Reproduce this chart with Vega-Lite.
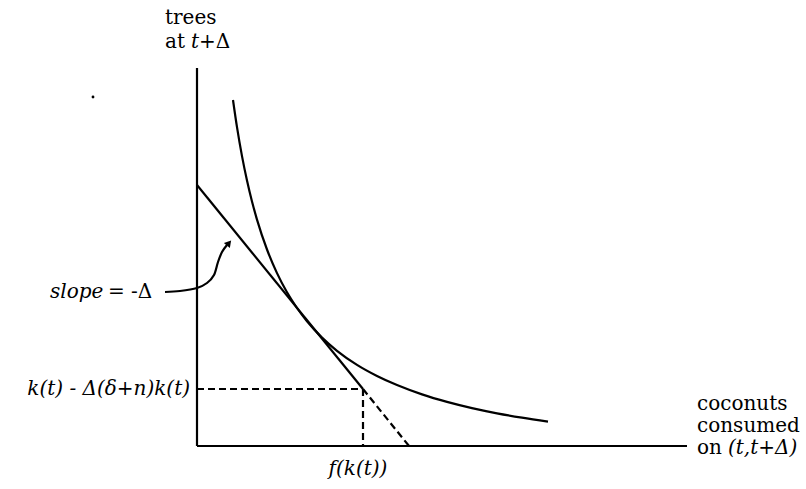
{
  "$schema": "https://vega.github.io/schema/vega-lite/v6.json",
  "width": 806,
  "height": 489,
  "autosize": {"type": "fit", "contains": "padding"},
  "padding": 0,
  "background": "white",
  "config": {"view": {"stroke": null}, "text": {"font": "DejaVu Serif"}},
  "datasets": {
    "straight": [
      {"id": "vaxis", "o": 1, "X": 0, "Y": 378},
      {"id": "vaxis", "o": 2, "X": 0, "Y": 0},
      {"id": "haxis", "o": 1, "X": 0, "Y": 0},
      {"id": "haxis", "o": 2, "X": 490, "Y": 0},
      {"id": "tangent", "o": 1, "X": 0, "Y": 261},
      {"id": "tangent", "o": 2, "X": 166, "Y": 57}
    ],
    "dashed": [
      {"id": "h", "o": 1, "X": 0, "Y": 57},
      {"id": "h", "o": 2, "X": 166, "Y": 57},
      {"id": "v", "o": 1, "X": 166, "Y": 57},
      {"id": "v", "o": 2, "X": 166, "Y": 0},
      {"id": "d", "o": 1, "X": 166, "Y": 57},
      {"id": "d", "o": 2, "X": 212, "Y": 0}
    ],
    "curve": [
      {"o": 1, "X": 36, "Y": 346},
      {"o": 2, "X": 40, "Y": 318.8},
      {"o": 3, "X": 45, "Y": 289.9},
      {"o": 4, "X": 50, "Y": 265.5},
      {"o": 5, "X": 55, "Y": 244.5},
      {"o": 6, "X": 60, "Y": 226.4},
      {"o": 7, "X": 70, "Y": 196.5},
      {"o": 8, "X": 80, "Y": 172.9},
      {"o": 9, "X": 90, "Y": 153.7},
      {"o": 10, "X": 100, "Y": 138},
      {"o": 11, "X": 110, "Y": 124.7},
      {"o": 12, "X": 125, "Y": 108.4},
      {"o": 13, "X": 140, "Y": 95.2},
      {"o": 14, "X": 160, "Y": 81.1},
      {"o": 15, "X": 180, "Y": 70},
      {"o": 16, "X": 200, "Y": 60.9},
      {"o": 17, "X": 225, "Y": 51.6},
      {"o": 18, "X": 250, "Y": 44.1},
      {"o": 19, "X": 275, "Y": 37.9},
      {"o": 20, "X": 300, "Y": 32.7},
      {"o": 21, "X": 325, "Y": 28.3},
      {"o": 22, "X": 351, "Y": 24.3}
    ],
    "arrow": [
      {"o": 1, "X": -32, "Y": 154},
      {"o": 2, "X": -17, "Y": 155},
      {"o": 3, "X": 0, "Y": 158},
      {"o": 4, "X": 10, "Y": 163},
      {"o": 5, "X": 17, "Y": 171},
      {"o": 6, "X": 21, "Y": 184},
      {"o": 7, "X": 25, "Y": 194},
      {"o": 8, "X": 30, "Y": 201}
    ],
    "marks": [
      {"kind": "dot", "X": -104, "Y": 349},
      {"kind": "head", "X": 32, "Y": 203}
    ],
    "labels": [
      {"label": "trees", "X": -32, "Y": 428, "italic": false, "align": "left"},
      {"label": "at", "X": -32, "Y": 404, "italic": false, "align": "left"},
      {"label": "t", "X": -6, "Y": 404, "italic": true, "align": "left"},
      {"label": "+Δ", "X": 2, "Y": 404, "italic": false, "align": "left"},
      {"label": "slope", "X": -147, "Y": 154, "italic": true, "align": "left"},
      {"label": "= -Δ", "X": -89, "Y": 154, "italic": false, "align": "left"},
      {"label": "k(t) - Δ(δ+n)k(t)", "X": -7, "Y": 57, "italic": true, "align": "right"},
      {"label": "f(k(t))", "X": 161, "Y": -23, "italic": true, "align": "center"},
      {"label": "coconuts", "X": 500, "Y": 42, "italic": false, "align": "left"},
      {"label": "consumed", "X": 500, "Y": 20, "italic": false, "align": "left"},
      {"label": "on", "X": 500, "Y": -2, "italic": false, "align": "left"},
      {"label": "(t,t+Δ)", "X": 531, "Y": -2, "italic": true, "align": "left"}
    ]
  },
  "encoding": {
    "x": {"field": "X", "type": "quantitative", "scale": {"domain": [-197, 609], "nice": false, "zero": false}, "axis": null},
    "y": {"field": "Y", "type": "quantitative", "scale": {"domain": [-43, 446], "nice": false, "zero": false}, "axis": null}
  },
  "layer": [
    {
      "data": {"name": "straight"},
      "mark": {"type": "line", "color": "black", "strokeWidth": 2.2, "strokeCap": "butt"},
      "encoding": {"detail": {"field": "id"}, "order": {"field": "o"}}
    },
    {
      "data": {"name": "dashed"},
      "mark": {"type": "line", "color": "black", "strokeWidth": 2.2, "strokeDash": [7, 4]},
      "encoding": {"detail": {"field": "id"}, "order": {"field": "o"}}
    },
    {
      "data": {"name": "curve"},
      "mark": {"type": "line", "color": "black", "strokeWidth": 2.2, "interpolate": "monotone"},
      "encoding": {"order": {"field": "o"}}
    },
    {
      "data": {"name": "arrow"},
      "mark": {"type": "line", "color": "black", "strokeWidth": 2.2, "interpolate": "cardinal"},
      "encoding": {"order": {"field": "o"}}
    },
    {
      "data": {"name": "marks"},
      "transform": [{"filter": "datum.kind === 'dot'"}],
      "mark": {"type": "point", "filled": true, "color": "black", "size": 8, "opacity": 1}
    },
    {
      "data": {"name": "marks"},
      "transform": [{"filter": "datum.kind === 'head'"}],
      "mark": {"type": "point", "shape": "triangle-up", "filled": true, "color": "black", "size": 60, "angle": 40, "opacity": 1}
    },
    {
      "data": {"name": "labels"},
      "transform": [{"filter": "!datum.italic && datum.align === 'left'"}],
      "mark": {"type": "text", "fontSize": 20, "align": "left", "baseline": "middle", "color": "black"},
      "encoding": {"text": {"field": "label"}}
    },
    {
      "data": {"name": "labels"},
      "transform": [{"filter": "datum.italic && datum.align === 'left'"}],
      "mark": {"type": "text", "fontStyle": "italic", "fontSize": 20, "align": "left", "baseline": "middle", "color": "black"},
      "encoding": {"text": {"field": "label"}}
    },
    {
      "data": {"name": "labels"},
      "transform": [{"filter": "datum.italic && datum.align === 'right'"}],
      "mark": {"type": "text", "fontStyle": "italic", "fontSize": 20, "align": "right", "baseline": "middle", "color": "black"},
      "encoding": {"text": {"field": "label"}}
    },
    {
      "data": {"name": "labels"},
      "transform": [{"filter": "datum.italic && datum.align === 'center'"}],
      "mark": {"type": "text", "fontStyle": "italic", "fontSize": 20, "align": "center", "baseline": "middle", "color": "black"},
      "encoding": {"text": {"field": "label"}}
    }
  ]
}
